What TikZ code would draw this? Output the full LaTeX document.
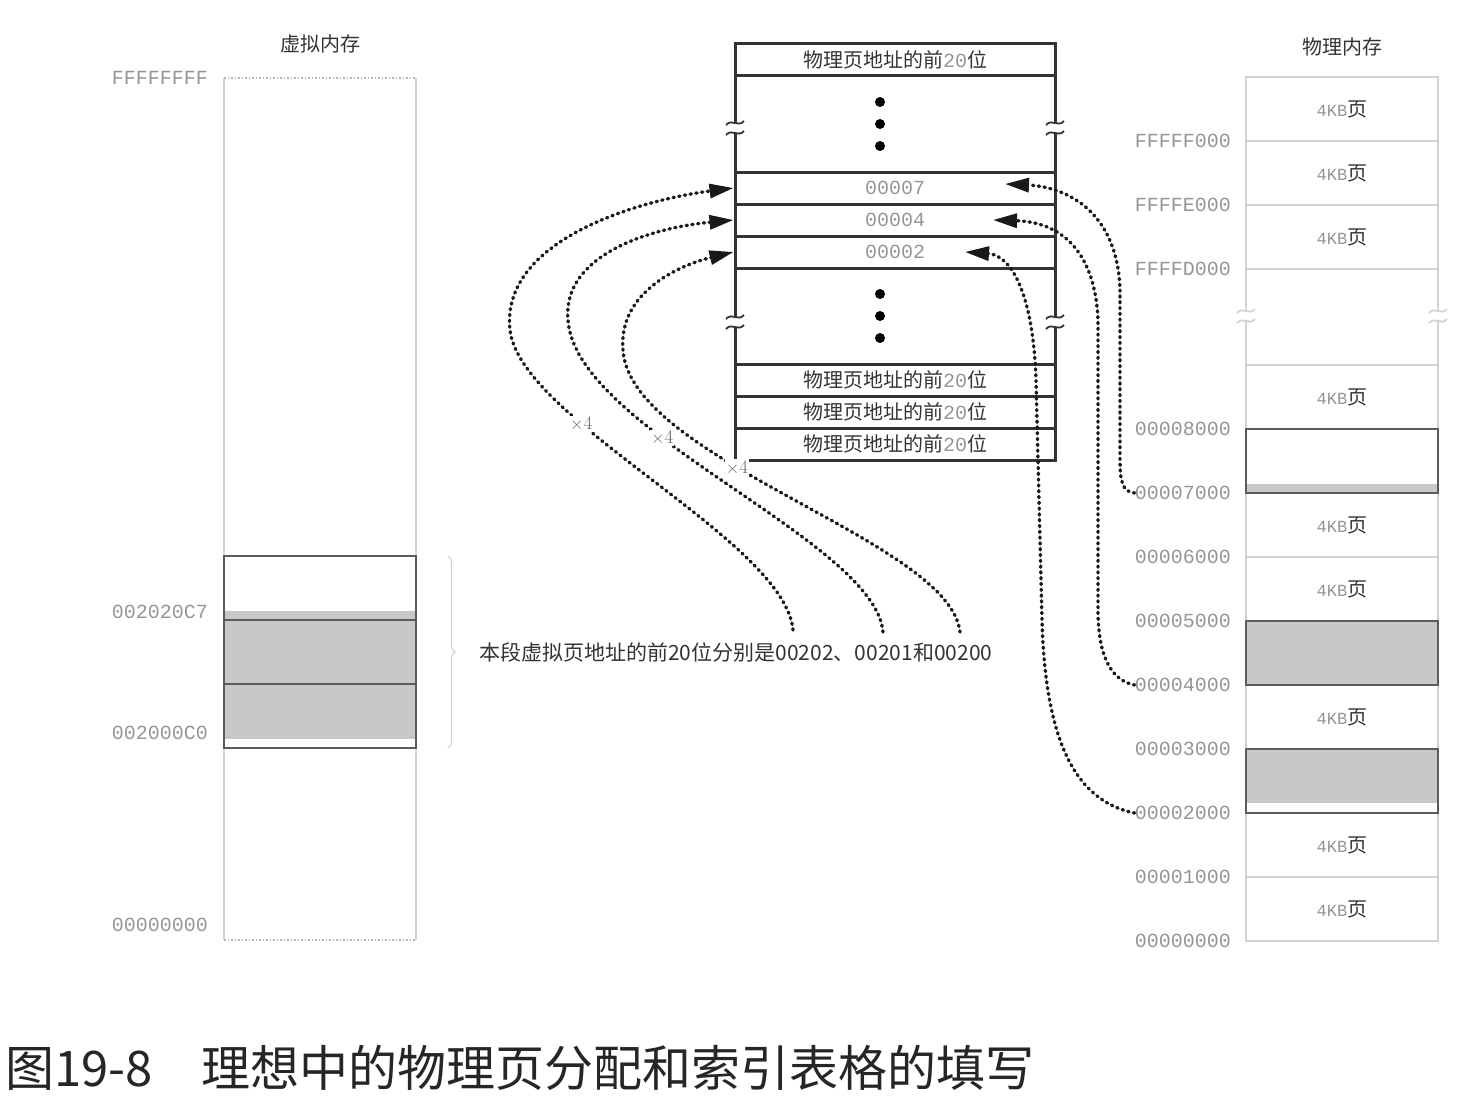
\documentclass[tikz,border=0pt]{standalone}
\usepackage{fontspec}
\newfontfamily\cjk{Noto Sans CJK SC}
\newfontfamily\addrfont{Liberation Mono}
\usetikzlibrary{arrows.meta,decorations.pathreplacing,positioning}
\definecolor{ink}{HTML}{333333}
\definecolor{frame}{HTML}{D2D2D2}
\definecolor{addr}{HTML}{959595}
\definecolor{greyfill}{HTML}{C8C8C8}
\definecolor{edge}{HTML}{5C5C5C}
\tikzset{
  addrlabel/.style={font=\addrfont\fontsize{20}{22}\selectfont,text=addr,inner sep=0pt},
  title/.style={font=\cjk\fontsize{20}{24}\selectfont,text=ink},
  entry/.style={draw=ink,line width=3pt,minimum width=320pt,minimum height=32pt,inner sep=0pt,
    font=\cjk\fontsize{20}{24}\selectfont,text=ink},
  slot/.style={entry,font=\addrfont\fontsize{20}{22}\selectfont,text=addr},
  link/.style={draw=black!90,line width=3.4pt,dash pattern=on 1.2pt off 4.6pt,line cap=round},
  tip/.style={-{Triangle[length=24pt,width=14pt]}},
  times/.style={fill=white,inner sep=1pt,text=black!60,font=\fontsize{19}{20}\selectfont},
  page/.style={font=\cjk\fontsize{20}{24}\selectfont,text=ink},
  column/.style={draw=frame,line width=1.5pt},
  chosen/.style={draw=edge,line width=2.2pt}}
\newcommand\pfn{物理页地址的前{\addrfont\color{addr}20}位}
\newcommand\kbpage{{\addrfont\fontsize{17}{20}\selectfont\color{addr}4KB}页}
% x, y, colour of a break mark on a vertical line
\newcommand\breakmark[3]{%
  \fill[white] (#1-5,#2-5) rectangle (#1+5,#2+5);
  \draw[#3,line width=1.8pt] (#1-9,#2-3) .. controls (#1-3,#2-10) and (#1+3,#2) .. (#1+9,#2-7)
    (#1-9,#2+7) .. controls (#1-3,#2) and (#1+3,#2+10) .. (#1+9,#2+3);}
\begin{document}
\begin{tikzpicture}[x=1pt,y=-1pt]
\useasboundingbox (0,0) rectangle (1463,1097);
% virtual memory
\node[title] (vtitle) at (320,44) {虚拟内存};
\draw[column] (224,78) -- (224,940) (416,78) -- (416,940);
\draw[addr!70,line width=1.5pt,dotted] (224,78) -- (416,78) (224,940) -- (416,940);
\fill[greyfill] (224,611) rectangle (416,739);
\draw[chosen] (224,556) rectangle (416,748) (224,620) -- (416,620) (224,684) -- (416,684);
\foreach \a/\y in {FFFFFFFF/78,002020C7/612,002000C0/733,00000000/925}
  \node[addrlabel,anchor=east] (v\y) at (208,\y) {\a};
\draw[frame,line width=1.2pt,decorate,decoration={brace,amplitude=7pt}] (448,556) -- (448,748);
\node[anchor=west,font=\cjk\fontsize{21}{24}\selectfont,text=ink,inner sep=0pt] (note) at (479,652)
  {本段虚拟页地址的前20位分别是00202、00201和00200};
\coordinate (s202) at (793,630);
\coordinate (s201) at (883,632);
\coordinate (s200) at (960,632);
% index table
\node[entry] (h1) at (895,60) {\pfn};
\draw[ink,line width=3pt] (735,76) -- (735,172) (1055,76) -- (1055,172)
  (735,268) -- (735,364) (1055,268) -- (1055,364);
\node[slot] (e7) at (895,188) {00007};
\node[slot] (e4) at (895,220) {00004};
\node[slot] (e2) at (895,252) {00002};
\node[entry] (f1) at (895,380) {\pfn};
\node[entry] (f2) at (895,412) {\pfn};
\node[entry] (f3) at (895,444) {\pfn};
\foreach \y in {102,124,146,294,316,338} \fill[black] (880,\y) circle (5);
\breakmark{735}{128}{ink}
\breakmark{1055}{128}{ink}
\breakmark{735}{322}{ink}
\breakmark{1055}{322}{ink}
% physical memory
\node[title] (ptitle) at (1342,47) {物理内存};
\draw[column] (1246,77) rectangle (1438,941);
\foreach \y in {141,205,269,365,557,877} \draw[column] (1246,\y) -- (1438,\y);
\fill[greyfill] (1246,484) rectangle (1438,493);
\fill[greyfill] (1246,621) rectangle (1438,685);
\fill[greyfill] (1246,749) rectangle (1438,803);
\draw[chosen] (1246,429) rectangle (1438,493) (1246,621) rectangle (1438,685)
  (1246,749) rectangle (1438,813);
\breakmark{1246}{316}{frame}
\breakmark{1438}{316}{frame}
\foreach \y in {109,173,237,397,525,589,717,845,909}
  \node[page] (pg\y) at (1342,\y) {\kbpage};
\foreach \a/\y in {FFFFF000/141,FFFFE000/205,FFFFD000/269,00008000/429,00007000/493,
  00006000/557,00005000/621,00004000/685,00003000/749,00002000/813,00001000/877,00000000/941}
  \node[addrlabel,anchor=east] (a\y) at (1231,\y) {\a};
\coordinate (t7) at (1005,184);
\coordinate (t4) at (993,220);
\coordinate (t2) at (965,252);
% links from the virtual pages into the table
\draw[link,tip] (s202) .. controls (785,540) and (520,420) .. (510,330) node[times,pos=.68] {$\times$4}
  .. controls (500,240) and (640,200) .. (e7.west);
\draw[link,tip] (s201) .. controls (875,540) and (575,430) .. (568,320) node[times,pos=.64] {$\times$4}
  .. controls (562,255) and (650,228) .. (e4.west);
\draw[link,tip] (s200) .. controls (950,540) and (630,460) .. (623,350) node[times,pos=.61] {$\times$4}
  .. controls (618,292) and (680,265) .. (e2.west);
% links from the physical pages into the table
\draw[link,tip] (a493.west) .. controls (1122,492) and (1120,480) .. (1120,460) -- (1120,290)
  .. controls (1118,215) and (1070,187) .. (t7);
\draw[link,tip] (a685.west) .. controls (1108,680) and (1098,650) .. (1098,610) -- (1098,320)
  .. controls (1095,250) and (1060,222) .. (t4);
\draw[link,tip] (a813.west) .. controls (1070,800) and (1045,730) .. (1042,620) -- (1036,380)
  .. controls (1033,290) and (1010,255) .. (t2);
\node[anchor=west,font=\cjk\fontsize{49}{52}\selectfont,text=black!85,inner sep=0pt] (caption)
  at (5,1068) {图19-8　理想中的物理页分配和索引表格的填写};
\end{tikzpicture}
\end{document}
